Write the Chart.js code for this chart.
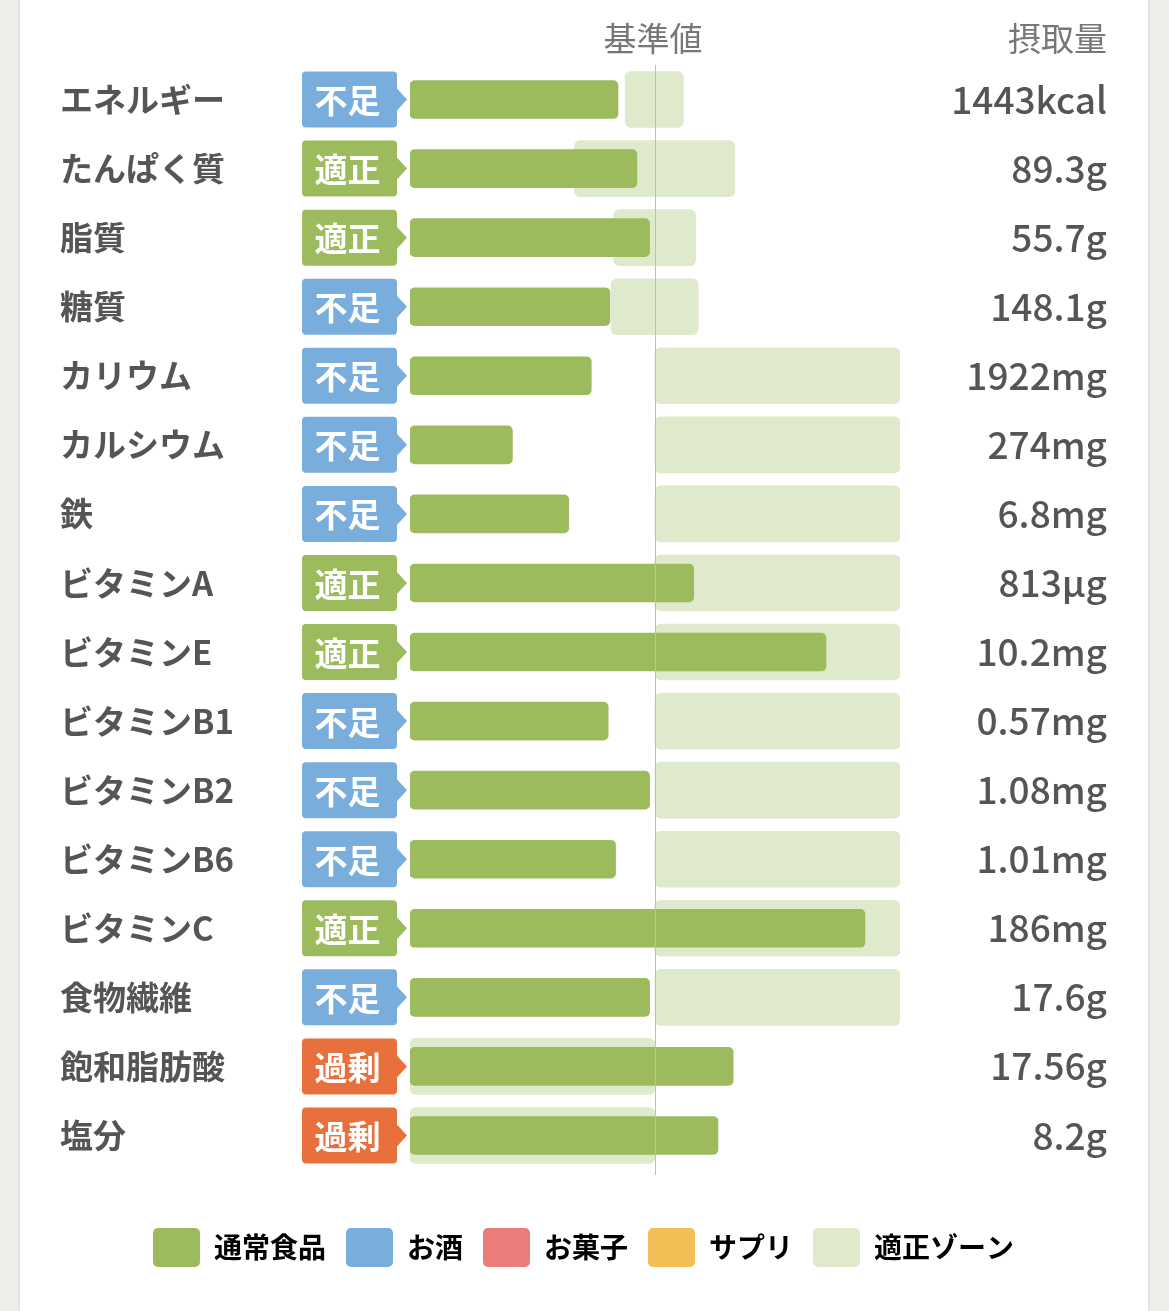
<!DOCTYPE html>
<html lang="ja">
<head>
<meta charset="utf-8">
<title>栄養バランス</title>
<script src="https://cdn.jsdelivr.net/npm/chart.js@4.4.1/dist/chart.umd.min.js"></script>
<style>
  html, body { margin: 0; padding: 0; background: #eeeee9; }
  .panel {
    position: absolute; left: 20px; top: 0;
    width: 1128px; height: 1311px;
    background: #fff;
    box-shadow: 0 0 3px rgba(0,0,0,0.15);
  }
  canvas { display: block; }
</style>
</head>
<body>
<div class="panel">
  <canvas id="nutrition" width="1128" height="1311"></canvas>
</div>

<script>
// Data (percent of the reference value)
const nutrients = ['エネルギー', 'たんぱく質', '脂質', '糖質', 'カリウム', 'カルシウム', '鉄',
  'ビタミンA', 'ビタミンE', 'ビタミンB1', 'ビタミンB2', 'ビタミンB6', 'ビタミンC',
  '食物繊維', '飽和脂肪酸', '塩分'];
const intakeLabels = ['1443kcal', '89.3g', '55.7g', '148.1g', '1922mg', '274mg', '6.8mg',
  '813µg', '10.2mg', '0.57mg', '1.08mg', '1.01mg', '186mg', '17.6g', '17.56g', '8.2g'];
const status = ['不足', '適正', '適正', '不足', '不足', '不足', '不足',
  '適正', '適正', '不足', '不足', '不足', '適正', '不足', '過剰', '過剰'];
const intakePct = [84.9, 92.6, 97.8, 81.6, 74.0, 41.8, 64.8,
  115.8, 169.8, 80.9, 97.8, 83.9, 185.7, 97.8, 131.9, 125.7];
const zoneLow  = [87.8, 67.1, 83.1, 82.1, 100, 100, 100, 100, 100, 100, 100, 100, 100, 100, 0, 0];
const zoneHigh = [111.6, 132.6, 116.6, 117.6, 200, 200, 200, 200, 200, 200, 200, 200, 200, 200, 100, 100];
const referenceValue = 100;
const axisMax = 200;

const legendNames = ['通常食品', 'お酒', 'お菓子', 'サプリ', '適正ゾーン'];
const legendColors = ['#9cbb5d', '#79addc', '#ec7c79', '#f3be56', '#dfe9cc'];
const statusColors = { '不足': '#79addc', '適正': '#9cbb5d', '過剰': '#e8703c' };

const FONT = '"Noto Sans CJK JP", "Noto Sans", sans-serif';

// badges, reference line and column headers
const overlay = {
  id: 'overlay',
  afterDatasetsDraw(chart) {
    const { ctx, chartArea, scales } = chart;
    const x = scales.x.getPixelForValue(referenceValue);
    ctx.save();
    ctx.strokeStyle = '#bdbdbd';
    ctx.lineWidth = 1;
    ctx.beginPath();
    ctx.moveTo(x + 0.5, chartArea.top);
    ctx.lineTo(x + 0.5, chartArea.bottom + 5);
    ctx.stroke();
    ctx.restore();
  },
  afterDraw(chart) {
    const { ctx, scales } = chart;
    const y = scales.y;
    ctx.save();
    // headers
    ctx.font = '400 33px ' + FONT;
    ctx.fillStyle = '#777';
    ctx.textBaseline = 'middle';
    ctx.textAlign = 'center';
    ctx.fillText('基準値', scales.x.getPixelForValue(referenceValue) - 2, 38);
    ctx.textAlign = 'right';
    ctx.fillText('摂取量', scales.y2.right, 38);

    // status badges
    status.forEach((s, i) => {
      const cy = y.getPixelForValue(i);
      const left = 282, right = 377, h = 56;
      ctx.fillStyle = statusColors[s];
      ctx.beginPath();
      ctx.roundRect(left, cy - h / 2, right - left, h, 4);
      ctx.fill();
      ctx.beginPath();
      ctx.moveTo(right - 1, cy - 12);
      ctx.lineTo(right + 10, cy);
      ctx.lineTo(right - 1, cy + 12);
      ctx.closePath();
      ctx.fill();
      ctx.fillStyle = '#fff';
      ctx.font = '700 33px ' + FONT;
      ctx.textAlign = 'center';
      ctx.textBaseline = 'middle';
      ctx.fillText(s, (left + right) / 2 - 2, cy + 1);
    });
    ctx.restore();
  }
};

new Chart(document.getElementById('nutrition'), {
  type: 'bar',
  data: {
    labels: nutrients,
    datasets: [
      {
        label: '通常食品',
        data: intakePct,
        backgroundColor: '#9cbb5d',
        barThickness: 38,
        borderRadius: 5,
        borderSkipped: false,
        grouped: false,
        order: 0
      },
      {
        label: '適正ゾーン',
        data: zoneLow.map((lo, i) => [lo, zoneHigh[i]]),
        backgroundColor: '#dfe9cc',
        barThickness: 56,
        borderRadius: 6,
        borderSkipped: false,
        grouped: false,
        order: 1
      }
    ]
  },
  options: {
    indexAxis: 'y',
    responsive: false,
    animation: false,
    layout: { padding: { top: 65, left: 40, right: 41, bottom: 34 } },
    plugins: {
      tooltip: { enabled: false },
      legend: {
        position: 'bottom',
        onClick: null,
        labels: {
          boxWidth: 47,
          boxHeight: 39,
          padding: 20,
          useBorderRadius: true,
          borderRadius: 5,
          color: '#666',
          font: { family: FONT, size: 28, weight: '700' },
          generateLabels: () => legendNames.map((name, i) => ({
            text: name,
            fillStyle: legendColors[i],
            strokeStyle: legendColors[i],
            lineWidth: 0,
            borderRadius: 5,
            hidden: false,
            datasetIndex: 0
          }))
        }
      }
    },
    scales: {
      x: {
        min: 0,
        max: axisMax,
        grid: { display: false },
        border: { display: false },
        ticks: { display: false },
        afterFit: s => { s.height = 38; }
      },
      y: {
        position: 'left',
        grid: { display: false },
        border: { display: false },
        ticks: {
          autoSkip: false,
          crossAlign: 'far',
          color: '#555',
          font: { family: FONT, size: 33, weight: '700' }
        },
        afterFit: s => { s.width = 350; }
      },
      y2: {
        type: 'category',
        position: 'right',
        labels: intakeLabels,
        offset: true,
        grid: { display: false },
        border: { display: false },
        ticks: {
          autoSkip: false,
          crossAlign: 'far',
          color: '#555',
          font: { family: FONT, size: 37, weight: '500' }
        },
        afterFit: s => { s.width = 207; }
      }
    }
  },
  plugins: [overlay]
});
</script>
</body>
</html>
